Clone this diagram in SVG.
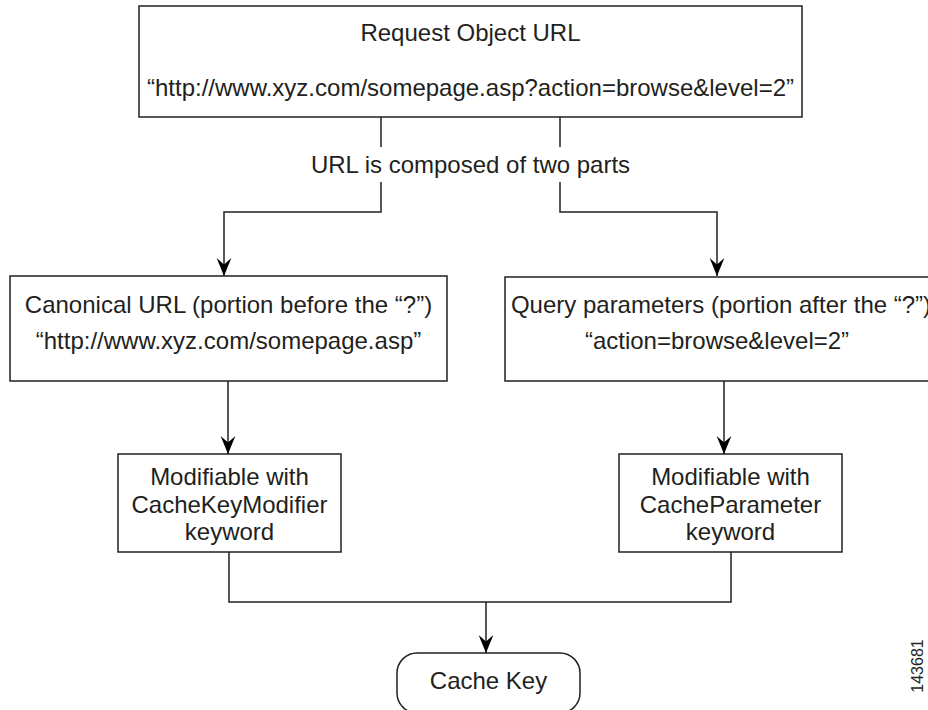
<svg xmlns="http://www.w3.org/2000/svg" width="928" height="710" viewBox="0 0 928 710">
<defs>
<style>
.box{fill:#fff;stroke:#231f20;stroke-width:1.5}
.t{font-family:"Liberation Sans",Arial,Helvetica,sans-serif;font-size:24px;fill:#231f20;text-anchor:middle}
.c{fill:none;stroke:#231f20;stroke-width:1.5}
</style>
<marker id="ah" markerUnits="userSpaceOnUse" markerWidth="20" markerHeight="20" viewBox="-18 -8 19 16" refX="0" refY="0" orient="auto">
<path d="M0,0 L-17,-7 L-11,0 L-17,7 Z" fill="#000"/>
</marker>
</defs>
<rect width="928" height="710" fill="#fff"/>
<g id="connectors">
<path class="c" d="M381,117 V147"/>
<path class="c" d="M381,182 V212 H224 V276" marker-end="url(#ah)"/>
<path class="c" d="M560,117 V147"/>
<path class="c" d="M560,182 V212 H717 V276" marker-end="url(#ah)"/>
<path class="c" d="M228,381 V454" marker-end="url(#ah)"/>
<path class="c" d="M724,381 V454" marker-end="url(#ah)"/>
<path class="c" d="M229,552 V602 H731 V552"/>
<path class="c" d="M486,602 V653" marker-end="url(#ah)"/>
</g>
<g id="request">
<rect class="box" x="139" y="6" width="663" height="111"/>
<text class="t" x="470.5" y="41">Request Object URL</text>
<text class="t" x="470.5" y="96">“http://www.xyz.com/somepage.asp?action=browse&amp;level=2”</text>
</g>
<text id="composed-label" class="t" x="470.5" y="173">URL is composed of two parts</text>
<g id="canonical">
<rect class="box" x="10" y="276" width="437" height="105"/>
<text class="t" x="228.5" y="313">Canonical URL (portion before the “?”)</text>
<text class="t" x="228.5" y="349">“http://www.xyz.com/somepage.asp”</text>
</g>
<g id="query">
<rect class="box" x="505" y="277" width="440" height="104"/>
<text class="t" x="721" y="313">Query parameters (portion after the “?”)</text>
<text class="t" x="717" y="349">“action=browse&amp;level=2”</text>
</g>
<g id="keymod">
<rect class="box" x="118" y="454" width="223" height="98"/>
<text class="t" x="229.5" y="485">Modifiable with</text>
<text class="t" x="229.5" y="513">CacheKeyModifier</text>
<text class="t" x="229.5" y="540">keyword</text>
</g>
<g id="parammod">
<rect class="box" x="619" y="454" width="223" height="98"/>
<text class="t" x="730.5" y="485">Modifiable with</text>
<text class="t" x="730.5" y="513">CacheParameter</text>
<text class="t" x="730.5" y="540">keyword</text>
</g>
<g id="cachekey">
<rect class="box" x="397" y="653" width="183" height="60" rx="20"/>
<text class="t" x="488.5" y="689">Cache Key</text>
</g>
<text x="923" y="666" transform="rotate(-90 923 666)" style="font-family:'Liberation Sans',Arial,sans-serif;font-size:16px;fill:#231f20;text-anchor:middle">143681</text>
</svg>
